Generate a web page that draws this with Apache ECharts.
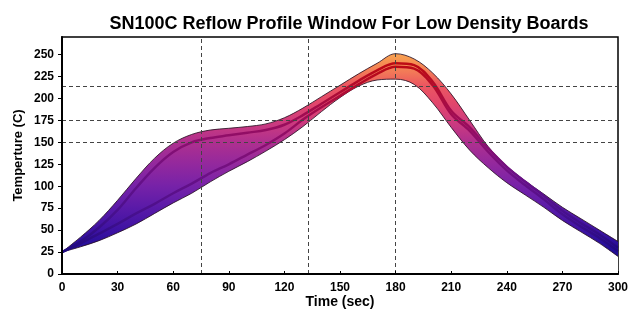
<!DOCTYPE html>
<html>
<head>
<meta charset="utf-8">
<script src="https://cdn.jsdelivr.net/npm/echarts@6/dist/echarts.min.js"></script>
<style>
  html, body { margin: 0; padding: 0; background: #fff; }
  #chart { width: 628px; height: 310px; }
</style>
</head>
<body>
<div id="chart"></div>
<script>
;(function () {
  'use strict';

  // time (sec)
  var times = [0, 10, 20, 30, 40, 50, 60, 70, 80, 90, 100, 110, 120, 130, 140, 150,
    160, 170, 180, 190, 200, 210, 220, 230, 240, 250, 260, 270, 280, 290, 300];
  // window edges (C)
  var upperEdge = [25, 42, 61, 84, 109, 132, 149, 159, 164, 166, 168, 171, 178, 189, 202, 215,
    228, 240, 251, 245, 229, 205, 175, 145, 123, 106, 91, 76, 63, 50, 37];
  var lowerEdge = [25, 31, 38, 47, 57, 69, 81, 92, 105, 117, 128, 140, 153, 168, 185, 201,
    214, 221, 222, 216, 195, 167, 141, 121, 104, 90, 76, 61, 48, 35, 20];
  // profile lines inside the window (C)
  var profileHigh = [25, 37, 53, 73, 98, 121, 139, 150, 155, 158, 161, 164, 170, 181, 194, 207,
    220, 232, 240, 238, 219, 186, 167, 143, 122, 105, 89, 72, 58, 45, 30];
  var profileLow = [25, 35, 46, 57, 69, 80, 92, 103, 115, 125, 136, 147, 160, 176, 190, 203,
    216, 228, 236, 234, 215, 182, 163, 139, 118, 101, 85, 68, 54, 41, 26];
  // dashed guide lines
  var guideTimes = [75, 133, 180];
  var guideTemps = [150, 175, 214];
  var yTicks = [0, 25, 50, 75, 100, 125, 150, 175, 200, 225, 250];

  function pairs(ys) {
    return times.map(function (t, i) { return [t, ys[i]]; });
  }

  // colour by height in the plot (global pixel coords, grid top 37 .. bottom 274)
  var fillGrad = new echarts.graphic.LinearGradient(0, 37, 0, 274, [
    { offset: 0.00, color: '#fcc462' },
    { offset: 0.09, color: '#f79a50' },
    { offset: 0.15, color: '#f27858' },
    { offset: 0.20, color: '#ec5860' },
    { offset: 0.28, color: '#e2466c' },
    { offset: 0.35, color: '#d03c7c' },
    { offset: 0.44, color: '#b0308e' },
    { offset: 0.54, color: '#92289e' },
    { offset: 0.63, color: '#7622a8' },
    { offset: 0.72, color: '#5a1aa8' },
    { offset: 0.82, color: '#3c12a2' },
    { offset: 0.89, color: '#240e98' },
    { offset: 1.00, color: '#180a88' }
  ], true);

  var lineGrad = new echarts.graphic.LinearGradient(0, 37, 0, 274, [
    { offset: 0.00, color: '#c8301a' },
    { offset: 0.12, color: '#bc0a14' },
    { offset: 0.22, color: '#b00c30' },
    { offset: 0.33, color: '#a00c52' },
    { offset: 0.44, color: '#8c0e6e' },
    { offset: 0.58, color: '#6c1086' },
    { offset: 0.75, color: '#46108e' },
    { offset: 0.90, color: '#200a80' },
    { offset: 1.00, color: '#140670' }
  ], true);

  var edgeColor = 'rgba(40, 15, 35, 0.85)';
  var font = '"Liberation Sans", Arial, sans-serif';

  var chart = echarts.init(document.getElementById('chart'), null, { renderer: 'canvas' });

  chart.setOption({
    animation: false,
    title: {
      text: 'SN100C Reflow Profile Window For Low Density Boards',
      left: 344,
      top: 10,
      textAlign: 'center',
      textStyle: { fontFamily: font, fontSize: 18, fontWeight: 'bold', color: '#000' }
    },
    grid: {
      left: 62, right: 10, top: 37, bottom: 36,
      outerBoundsMode: 'none',
      containLabel: false,
      show: true,
      borderColor: '#000',
      borderWidth: 1.5,
      backgroundColor: '#fff'
    },
    xAxis: {
      type: 'value',
      min: 0, max: 300, interval: 30,
      z: 10,
      name: 'Time (sec)',
      nameLocation: 'middle',
      nameGap: 21,
      nameMoveOverlap: false,
      nameTextStyle: { fontFamily: font, fontSize: 14, fontWeight: 'bold', color: '#000' },
      axisLine: { lineStyle: { color: '#000', width: 2 } },
      axisTick: { show: true, inside: true, length: 3, lineStyle: { color: '#000', width: 1 } },
      axisLabel: { margin: 8, fontFamily: font, fontSize: 12, fontWeight: 'bold', color: '#000' },
      splitLine: { show: false }
    },
    yAxis: {
      type: 'value',
      min: 0, max: 270,
      z: 10,
      name: 'Temperture (C)',
      nameLocation: 'middle',
      nameGap: 37,
      nameMoveOverlap: false,
      nameTextStyle: { fontFamily: font, fontSize: 13, fontWeight: 'bold', color: '#000' },
      axisLine: { show: true, lineStyle: { color: '#000', width: 2 } },
      axisTick: { show: true, length: 4, customValues: yTicks, lineStyle: { color: '#000', width: 1 } },
      axisLabel: { margin: 8, customValues: yTicks, fontFamily: font, fontSize: 12, fontWeight: 'bold', color: '#000' },
      splitLine: { show: false }
    },
    series: [
      {
        // filled down to the axis, then masked by the lower edge below
        name: 'upper',
        type: 'line',
        data: pairs(upperEdge),
        smooth: 0.35,
        symbol: 'none',
        silent: true,
        lineStyle: { color: edgeColor, width: 1 },
        areaStyle: { color: fillGrad, opacity: 1 },
        z: 2
      },
      {
        name: 'lower',
        type: 'line',
        data: pairs(lowerEdge),
        smooth: 0.35,
        symbol: 'none',
        silent: true,
        lineStyle: { color: edgeColor, width: 1 },
        areaStyle: { color: '#fff', opacity: 1 },
        z: 3
      },
      {
        name: 'profileHigh',
        type: 'line',
        data: pairs(profileHigh),
        smooth: 0.35,
        symbol: 'none',
        silent: true,
        lineStyle: { color: lineGrad, width: 2.5 },
        z: 4
      },
      {
        name: 'profileLow',
        type: 'line',
        data: pairs(profileLow),
        smooth: 0.35,
        symbol: 'none',
        silent: true,
        lineStyle: { color: lineGrad, width: 2.5 },
        z: 4
      },
      {
        name: 'guides',
        type: 'line',
        data: [],
        z: 5,
        markLine: {
          silent: true,
          symbol: 'none',
          animation: false,
          label: { show: false },
          lineStyle: { type: [4, 3], color: '#444', width: 1 },
          data: guideTimes.map(function (t) { return { xAxis: t }; })
            .concat(guideTemps.map(function (v) { return { yAxis: v }; }))
        }
      }
    ]
  });
})();
</script>
</body>
</html>
